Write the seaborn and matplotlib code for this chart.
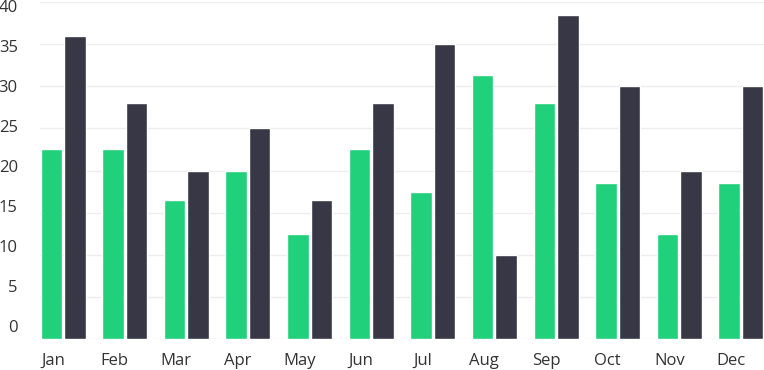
import seaborn as sns
import pandas as pd
import matplotlib.pyplot as plt
import matplotlib.transforms as mtransforms

sns.set_theme(style='white')
plt.rcParams['font.family'] = ['Open Sans', 'DejaVu Sans']

months = ['Jan', 'Feb', 'Mar', 'Apr', 'May', 'Jun', 'Jul', 'Aug', 'Sep', 'Oct', 'Nov', 'Dec']
green_vals = [22.5, 22.5, 16.5, 20, 12.5, 22.5, 17.5, 31.3, 28, 18.5, 12.5, 18.5]
dark_vals = [36, 28, 20, 25, 16.5, 28, 35, 10, 38.5, 30, 20, 30]
y_ticks = [0, 5, 10, 15, 20, 25, 30, 35, 40]

raw = pd.DataFrame({'month': months, 'A': green_vals, 'B': dark_vals})
data = pd.melt(raw, id_vars='month', var_name='series', value_name='value')

fig = plt.figure(figsize=(7.64, 3.70), dpi=100)
ax = fig.add_axes([40 / 764, 1 - 339 / 370, 724 / 764, 337 / 370])

sns.barplot(data=data, x='month', y='value', hue='series', palette=['#21d07a', '#383745'],
            width=0.76, gap=0.08, saturation=1, legend=False, ax=ax)

ax.set_xlim(-0.375, 11.375)
ax.set_ylim(0, 40)
ax.set_yticks(y_ticks)
ax.set_axisbelow(True)
ax.yaxis.grid(True, color='#ededed', linewidth=1)
ax.xaxis.grid(False)
sns.despine(ax=ax, left=True, bottom=True)
ax.set_xlabel('')
ax.set_ylabel('')
ax.tick_params(axis='both', length=0, labelsize=12, labelcolor='#333333')
ax.tick_params(axis='y', pad=16)
ax.tick_params(axis='x', pad=10)

# month labels sit a little left of the group centre
for lab in ax.get_xticklabels():
    lab.set_transform(lab.get_transform() + mtransforms.ScaledTranslation(-10 / 100, 0, fig.dpi_scale_trans))

# y labels are spaced slightly tighter than the grid in the original
for v, lab in zip(y_ticks, ax.get_yticklabels()):
    dy = (13 - 0.425 * v) / 100
    lab.set_transform(lab.get_transform() + mtransforms.ScaledTranslation(0, dy, fig.dpi_scale_trans))

fig.savefig('out.png', dpi=100)
